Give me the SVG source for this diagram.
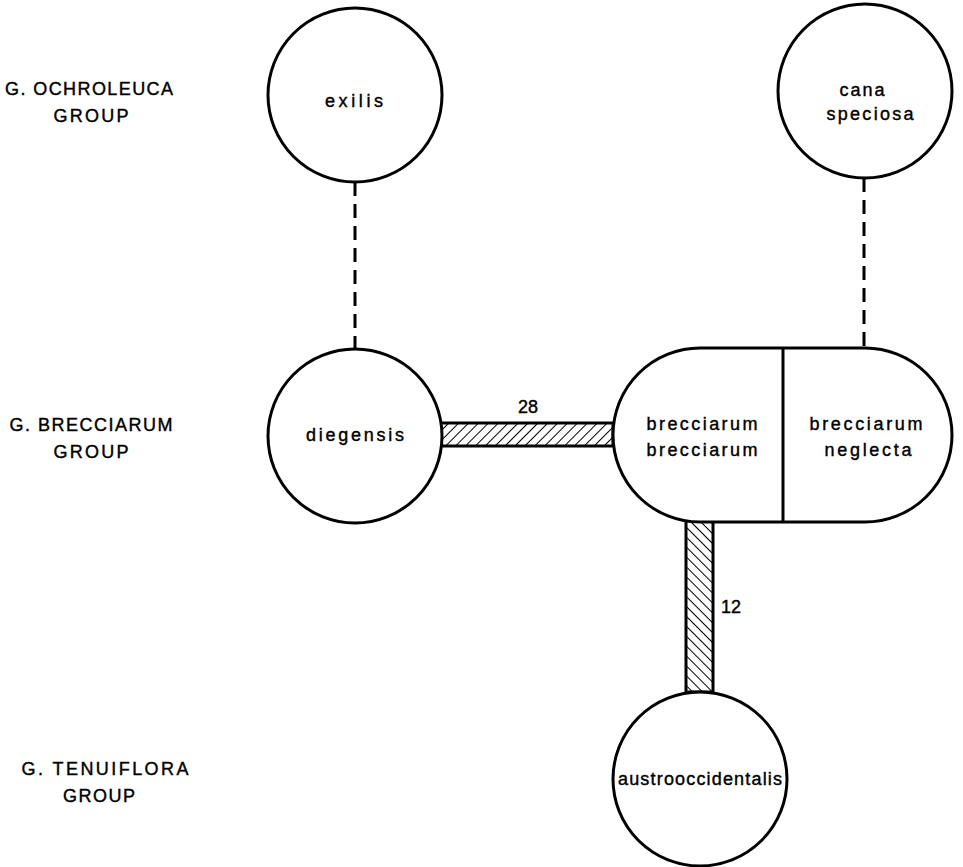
<svg xmlns="http://www.w3.org/2000/svg" width="963" height="867" viewBox="0 0 963 867">
<style>
.n{fill:#fff;stroke:#000;stroke-width:3}
.t{font-family:"Liberation Sans",Arial,sans-serif;font-size:18px;text-anchor:middle;fill:#000;stroke:#000;stroke-width:0.4}
.d{stroke:#000;stroke-width:3;stroke-dasharray:14,8;fill:none}
</style>
<defs>
<pattern id="h1" patternUnits="userSpaceOnUse" width="7" height="7" patternTransform="rotate(45)">
<line x1="0" y1="0" x2="0" y2="7" stroke="#000" stroke-width="2"/>
</pattern>
<pattern id="h2" patternUnits="userSpaceOnUse" width="7" height="7" patternTransform="rotate(-45)">
<line x1="0" y1="0" x2="0" y2="7" stroke="#000" stroke-width="2"/>
</pattern>
</defs>
<g id="labels">
<text class="t" x="89" y="95" textLength="168" lengthAdjust="spacing">G. OCHROLEUCA</text>
<text class="t" x="91" y="122" textLength="75" lengthAdjust="spacing">GROUP</text>
<text class="t" x="91" y="431" textLength="163" lengthAdjust="spacing">G. BRECCIARUM</text>
<text class="t" x="91" y="458" textLength="75" lengthAdjust="spacing">GROUP</text>
<text class="t" x="105" y="775" textLength="167" lengthAdjust="spacing">G. TENUIFLORA</text>
<text class="t" x="99" y="802" textLength="72" lengthAdjust="spacing">GROUP</text>
</g>
<g id="connectors">
<line class="d" x1="355" y1="182" x2="355" y2="349"/>
<line class="d" x1="864" y1="178" x2="864" y2="348"/>
<rect x="440" y="423" width="173" height="23" fill="url(#h1)" stroke="#000" stroke-width="3"/>
<rect x="686" y="521" width="27" height="171" fill="url(#h2)" stroke="#000" stroke-width="3"/>
<text class="t" x="528" y="413">28</text>
<text class="t" x="731" y="613">12</text>
</g>
<g id="exilis">
<circle class="n" cx="355" cy="95" r="87"/>
<text class="t" x="354" y="107" textLength="58" lengthAdjust="spacing">exilis</text>
</g>
<g id="cana-speciosa">
<circle class="n" cx="865" cy="91" r="87"/>
<text class="t" x="862" y="96" textLength="45" lengthAdjust="spacing">cana</text>
<text class="t" x="870" y="120" textLength="87" lengthAdjust="spacing">speciosa</text>
</g>
<g id="diegensis">
<circle class="n" cx="355" cy="436" r="87"/>
<text class="t" x="355" y="441" textLength="98" lengthAdjust="spacing">diegensis</text>
</g>
<g id="brecciarum">
<rect class="n" x="613" y="348" width="339" height="174" rx="87" ry="87"/>
<line x1="783" y1="348" x2="783" y2="522" stroke="#000" stroke-width="3"/>
<text class="t" x="702" y="430" textLength="111" lengthAdjust="spacing">brecciarum</text>
<text class="t" x="702" y="456" textLength="111" lengthAdjust="spacing">brecciarum</text>
<text class="t" x="866" y="430" textLength="113" lengthAdjust="spacing">brecciarum</text>
<text class="t" x="868" y="456" textLength="87" lengthAdjust="spacing">neglecta</text>
</g>
<g id="austrooccidentalis">
<circle class="n" cx="700" cy="779" r="87"/>
<text class="t" x="700" y="785" textLength="164" lengthAdjust="spacing">austrooccidentalis</text>
</g>
</svg>
